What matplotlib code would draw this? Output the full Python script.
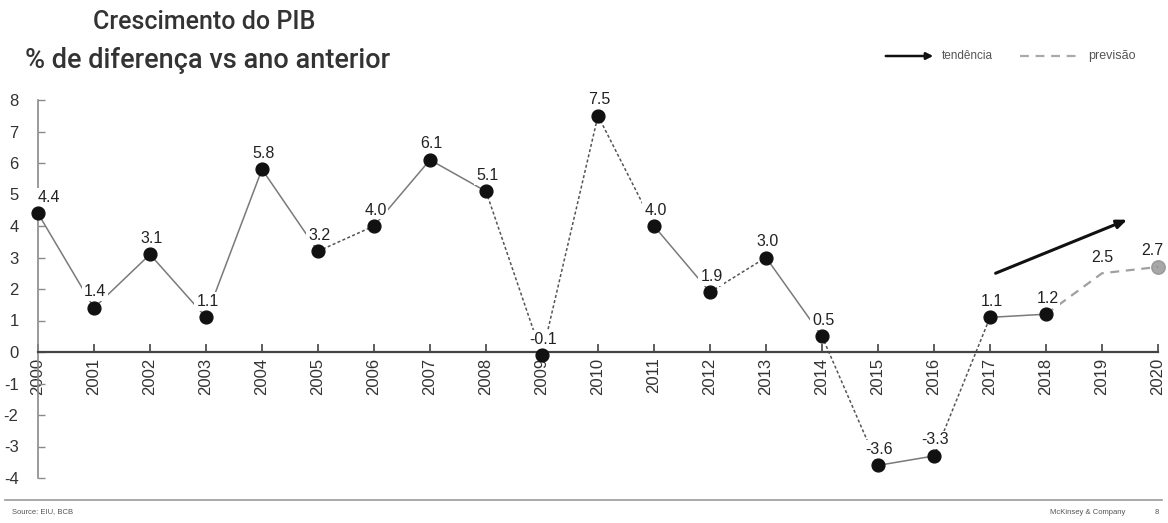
import matplotlib
matplotlib.use("Agg")
import matplotlib.pyplot as plt

# GDP growth, % change vs previous year
years = [2000, 2001, 2002, 2003, 2004, 2005, 2006, 2007, 2008, 2009,
         2010, 2011, 2012, 2013, 2014, 2015, 2016, 2017, 2018]
growth = [4.4, 1.4, 3.1, 1.1, 5.8, 3.2, 4.0, 6.1, 5.1, -0.1,
          7.5, 4.0, 1.9, 3.0, 0.5, -3.6, -3.3, 1.1, 1.2]
# segments drawn with a dotted stroke (index of the starting year)
dotted_from = [5, 8, 9, 10, 12, 14, 16]

forecast_years = [2018, 2019, 2020]
forecast_values = [1.2, 2.5, 2.7]

# trend arrow (start / end in data coordinates)
trend_start = (2017.1, 2.5)
trend_end = (2019.45, 4.2)

y_ticks = list(range(-4, 9))
x_ticks = list(range(2000, 2021))

plt.rcParams['font.family'] = ['Liberation Sans', 'DejaVu Sans']

fig = plt.figure(figsize=(11.68, 5.23), dpi=100)
ax = fig.add_axes([38 / 1168, 1 - 478 / 523, (1158 - 38) / 1168, (478 - 100) / 523])
ax.set_xlim(2000, 2020)
ax.set_ylim(-4, 8)

line_col = '#7a7a7a'
for i in range(len(years) - 1):
    dotted = i in dotted_from
    ax.plot(years[i:i + 2], growth[i:i + 2], color='#555555' if dotted else line_col,
            lw=1.1, ls=(0, (2, 1.5)) if dotted else '-', zorder=2,
            solid_capstyle='butt')

ax.plot(forecast_years, forecast_values, color='#a0a0a0', lw=1.6, ls=(0, (4, 3)), zorder=2)

ax.scatter(years, growth, s=85, color='#111111', zorder=4, clip_on=False)
ax.scatter([forecast_years[-1]], [forecast_values[-1]], s=95, color='#8a8a8a',
           alpha=0.75, zorder=4, clip_on=False)

label_box = dict(boxstyle='square,pad=0.12', fc='white', ec='none')
for x, v in zip(years, growth):
    dx = 8 if x == 2000 else 1
    ax.annotate(f"{v:.1f}", (x, v), xytext=(dx, 11.5), textcoords='offset points',
                ha='center', va='center', fontsize=11.5, color='#222222',
                bbox=label_box, zorder=3, annotation_clip=False)
for x, v in zip(forecast_years[1:], forecast_values[1:]):
    dx = -4 if x == 2020 else 0
    ax.annotate(f"{v:.1f}", (x, v), xytext=(dx, 11.5), textcoords='offset points',
                ha='center', va='center', fontsize=11.5, color='#222222',
                bbox=label_box, zorder=3, annotation_clip=False)

ax.annotate('', xy=trend_end, xytext=trend_start,
            arrowprops=dict(arrowstyle='-|>,head_length=0.6,head_width=0.25',
                            color='#111111', lw=2.2, shrinkA=0, shrinkB=0))

# axes styling
for side in ('top', 'right'):
    ax.spines[side].set_visible(False)
ax.spines['bottom'].set_position(('data', 0))
ax.spines['bottom'].set_color('#444444')
ax.spines['bottom'].set_linewidth(1.6)
ax.spines['left'].set_color('#8a8a8a')
ax.spines['left'].set_linewidth(1.2)

ax.set_yticks(y_ticks)
ax.set_yticklabels([str(t) for t in y_ticks])
ax.tick_params(axis='y', direction='in', length=5, width=1, color='#8a8a8a',
               labelsize=12, labelcolor='#333333', pad=14)
ax.set_xticks(x_ticks)
ax.set_xticklabels([str(t) for t in x_ticks], rotation=90)
ax.tick_params(axis='x', direction='in', length=6, width=1.2, color='#444444',
               labelsize=12, labelcolor='#333333', pad=4)
for lab in ax.get_xticklabels():
    lab.set_va('top')

# titles
fig.text(93 / 1168, 1 - 22 / 523, 'Crescimento do PIB', fontsize=18, color='#333333',
         fontweight='medium', family=['Roboto', 'DejaVu Sans'], ha='left', va='center')
fig.text(25 / 1168, 1 - 60 / 523, '% de diferença vs ano anterior', fontsize=19.5,
         color='#333333', fontweight='medium', family=['Roboto', 'DejaVu Sans'],
         ha='left', va='center')

# legend
ly = 1 - 56 / 523
fig.add_artist(matplotlib.patches.FancyArrowPatch(
    (883 / 1168, ly), (936 / 1168, ly), transform=fig.transFigure,
    arrowstyle='-|>,head_length=4,head_width=2', color='#111111', lw=1.8))
fig.text(942 / 1168, ly, 'tendência', fontsize=8.5, color='#555555', ha='left', va='center')
fig.add_artist(matplotlib.lines.Line2D([1020 / 1168, 1080 / 1168], [ly, ly],
                                       transform=fig.transFigure, color='#aaaaaa',
                                       lw=1.6, ls=(0, (4, 3))))
fig.text(1088 / 1168, ly, 'previsão', fontsize=9, color='#555555', ha='left', va='center')

# footer
fy = 1 - 500 / 523
fig.add_artist(matplotlib.lines.Line2D([5 / 1168, 1162 / 1168], [fy, fy],
                                       transform=fig.transFigure, color='#999999', lw=1.2))
fig.text(12 / 1168, 1 - 512 / 523, 'Source: EIU, BCB', fontsize=5.5, color='#555555',
         ha='left', va='center')
fig.text(1125 / 1168, 1 - 512 / 523, 'McKinsey & Company', fontsize=5.5, color='#555555',
         ha='right', va='center')
fig.text(1157 / 1168, 1 - 512 / 523, '8', fontsize=5.5, color='#555555',
         ha='center', va='center')

fig.savefig('out.png', dpi=100, facecolor='white')
